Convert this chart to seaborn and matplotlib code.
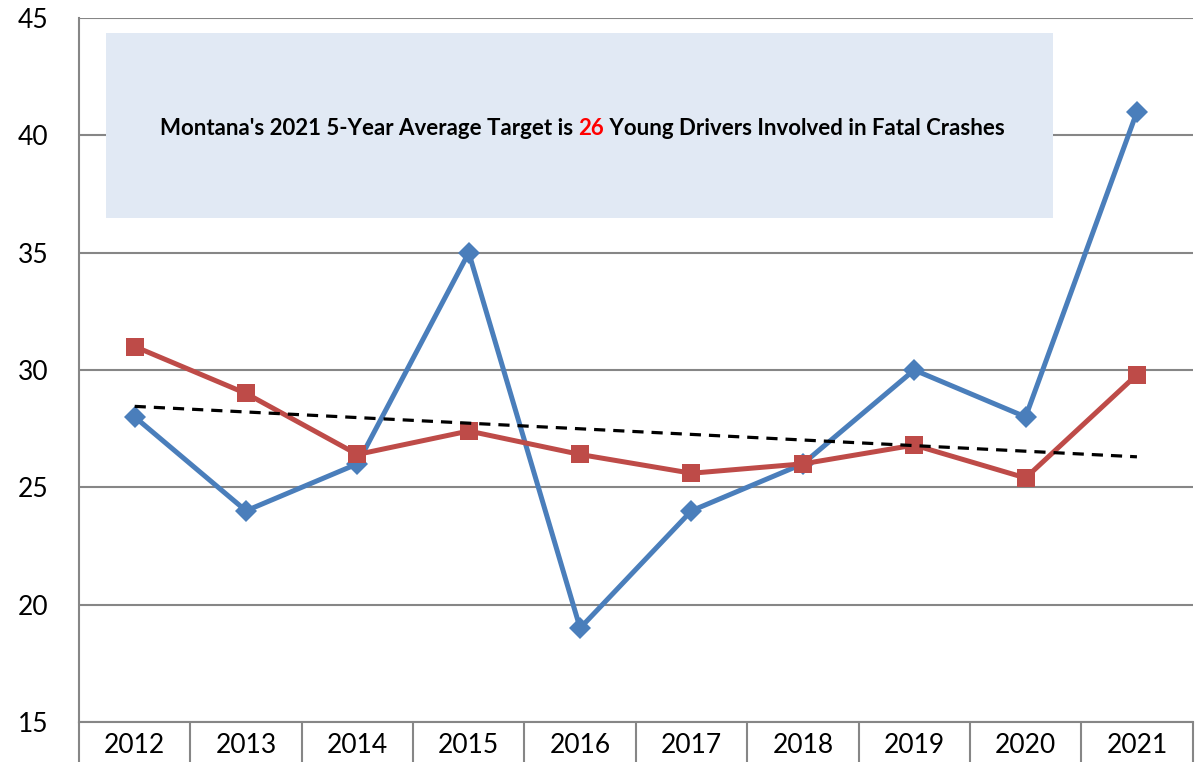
import pandas as pd
import matplotlib.pyplot as plt
import seaborn as sns
from matplotlib.patches import Rectangle
from matplotlib.ticker import FixedLocator

# data
years = ['2012', '2013', '2014', '2015', '2016', '2017', '2018', '2019', '2020', '2021']
young_drivers = [28, 24, 26, 35, 19, 24, 26, 30, 28, 41]
five_year_avg = [31.0, 29.0, 26.4, 27.4, 26.4, 25.6, 26.0, 26.8, 25.4, 29.8]
trend_years = ['2012', '2021']
trend_values = [28.45, 26.3]

df = pd.DataFrame({'year': years, 'annual': young_drivers, 'avg5': five_year_avg})
df_trend = pd.DataFrame({'year': trend_years, 'trend': trend_values})

sns.set_theme(style="white")
plt.rcParams['font.family'] = ['Lato', 'DejaVu Sans']

fig = plt.figure(figsize=(11.95, 7.62), dpi=100)
ax = fig.add_axes([0.0661, 0.0525, 0.9319, 0.9239])

grey = '#868686'

# text box behind the lines
ax.add_patch(Rectangle((-0.26, 36.47), 8.51, 7.89, facecolor='#E1E9F4',
                       edgecolor='none', zorder=1.5))

sns.lineplot(data=df, x='year', y='annual', ax=ax, color='#4A7EBB', lw=3.6,
             marker='D', markersize=11.5, markeredgewidth=0, sort=False, zorder=3)
sns.lineplot(data=df, x='year', y='avg5', ax=ax, color='#BE4B48', lw=3.6,
             marker='s', markersize=13, markeredgewidth=0, sort=False, zorder=4)
sns.lineplot(data=df_trend, x='year', y='trend', ax=ax, color='black', lw=2.3,
             dashes=False, linestyle=(0, (3.5, 2.5)), sort=False, zorder=5)

ax.set_xlim(-0.5, 9.5)
ax.set_ylim(15, 45)
ax.set_yticks([15, 20, 25, 30, 35, 40, 45])
ax.set_xlabel('')
ax.set_ylabel('')

ax.yaxis.grid(True, color=grey, lw=1.5, zorder=1)
ax.set_axisbelow(True)
for s in ['top', 'right']:
    ax.spines[s].set_visible(False)
for s in ['left', 'bottom']:
    ax.spines[s].set_color(grey)
    ax.spines[s].set_linewidth(1.5)

ax.tick_params(axis='y', length=0, pad=22, labelsize=19, labelcolor='black')
ax.tick_params(axis='x', which='major', length=0, pad=8, labelsize=19, labelcolor='black')
ax.xaxis.set_minor_locator(FixedLocator([i - 0.5 for i in range(len(years) + 1)]))
ax.tick_params(axis='x', which='minor', bottom=True, length=40, width=1.5,
               color=grey, direction='out')

# title text with red number
fs = 16
t1 = ax.text(0.227, 40.31, "Montana's 2021 5-Year Average Target is ", fontsize=fs,
             fontweight='bold', ha='left', va='center', color='black', zorder=6)
t2 = ax.annotate('26', xy=(1, 0.5), xycoords=t1, fontsize=fs, fontweight='bold',
                 ha='left', va='center', color='#FF0000', zorder=6)
t3 = ax.annotate(' Young Drivers Involved in Fatal Crashes', xy=(1, 0.5), xycoords=t2,
                 fontsize=fs, fontweight='bold', ha='left', va='center',
                 color='black', zorder=6)

if ax.get_legend():
    ax.get_legend().remove()

plt.savefig('out.png', dpi=100)
